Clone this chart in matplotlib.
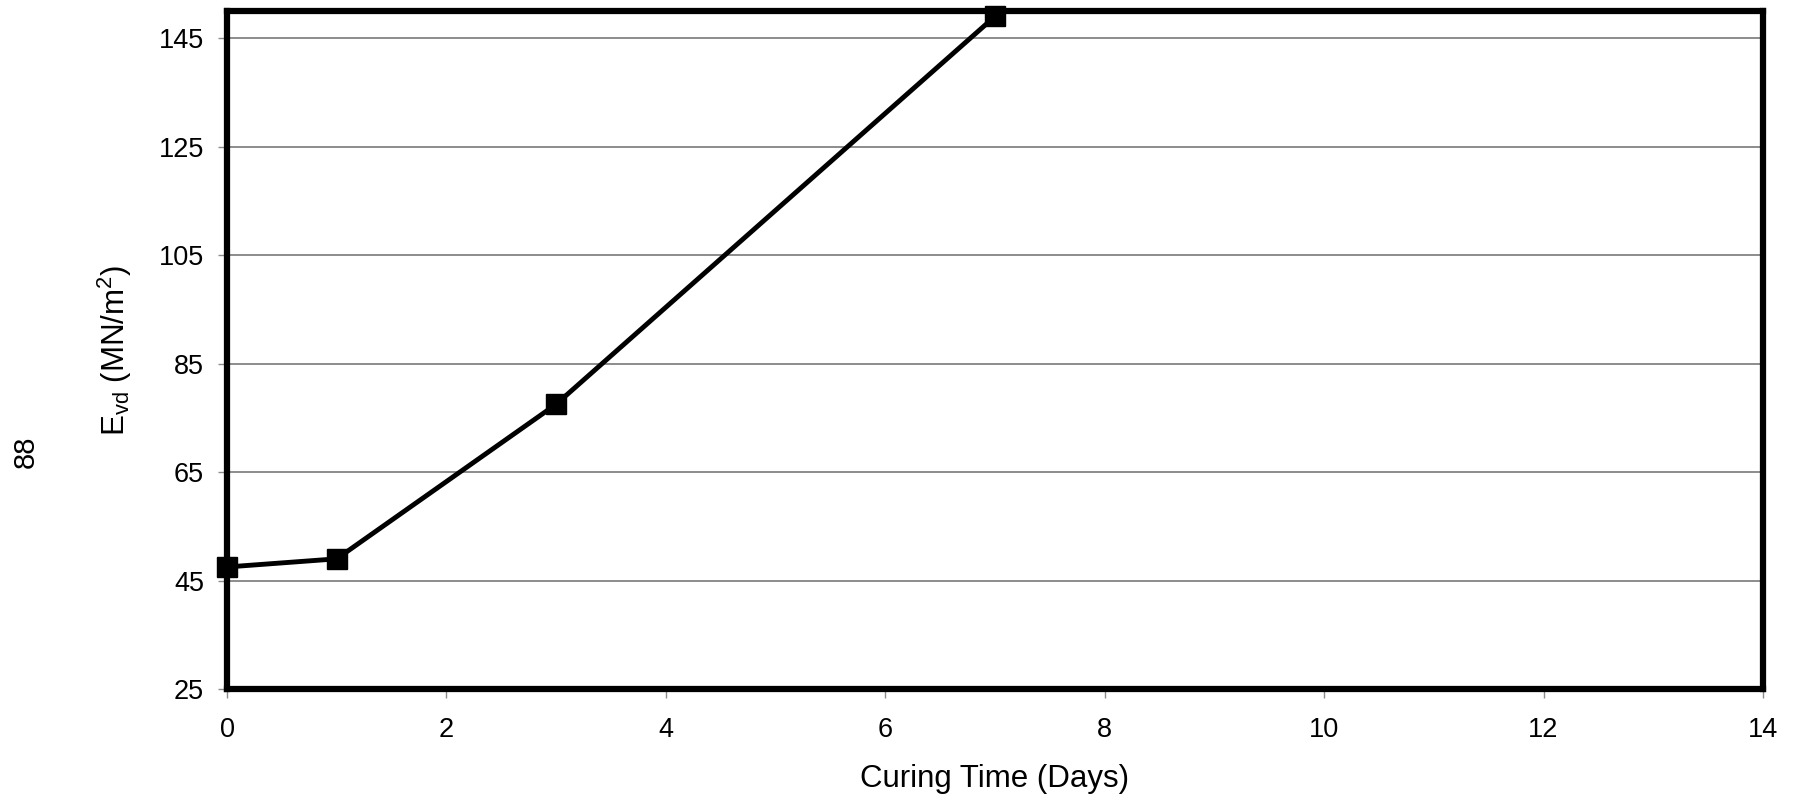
import matplotlib
matplotlib.use("Agg")
import matplotlib.pyplot as plt

curing_days = [0, 1, 3, 7]
evd_values = [47.5, 49, 77.5, 149]
x_ticks = [0, 2, 4, 6, 8, 10, 12, 14]
y_ticks = [25, 45, 65, 85, 105, 125, 145]

plt.rcParams['font.family'] = ['Liberation Sans', 'DejaVu Sans']

fig = plt.figure(figsize=(17.96, 8.01), dpi=100)
ax = fig.add_axes([0.1264, 0.1398, 0.9816 - 0.1264, 0.9863 - 0.1398])

ax.set_xlim(0, 14)
ax.set_ylim(25, 150)
ax.set_xticks(x_ticks)
ax.set_yticks(y_ticks)
ax.yaxis.grid(True, color='#8c8c8c', linewidth=1.4)
ax.set_axisbelow(True)

ax.plot(curing_days, evd_values, color='black', linewidth=3.5, marker='s',
        markersize=14, markerfacecolor='black', markeredgecolor='black',
        clip_on=False, zorder=5)

for s in ax.spines.values():
    s.set_linewidth(4.5)
    s.set_color('black')
    s.set_zorder(4)

ax.tick_params(axis='both', which='major', direction='out', length=6.5,
               width=1.0, color='#8c8c8c', labelsize=19.5)
ax.tick_params(axis='x', pad=14)
ax.tick_params(axis='y', pad=10)

ax.set_xlabel('Curing Time (Days)', fontsize=22.5, labelpad=15)
ax.set_ylabel(r'E$_{\mathregular{vd}}$ (MN/m$^{\mathregular{2}}$)', fontsize=22.5, labelpad=18)

fig.text(0.0145, 0.436, '88', rotation=90, fontsize=21, ha='center', va='center')

fig.savefig('out.png', dpi=100)
